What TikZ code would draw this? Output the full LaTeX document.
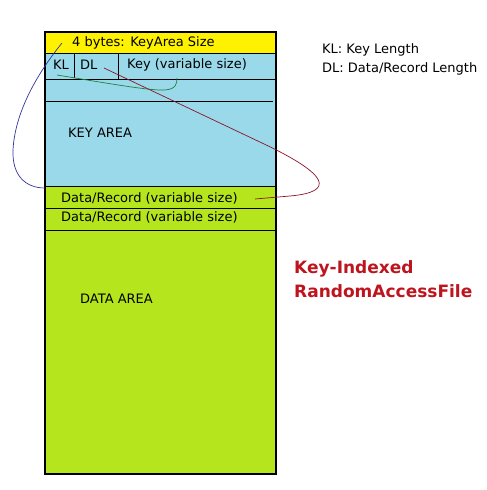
\documentclass[tikz,border=0pt]{standalone}
\usepackage{fontspec}
\setmainfont{DejaVu Sans}
\usepackage{tikz}

\definecolor{hdryellow}{RGB}{255,242,0}
\definecolor{keyblue}{RGB}{153,217,234}
\definecolor{datagreen}{RGB}{181,230,29}
\definecolor{titlered}{RGB}{190,20,30}
\definecolor{linkblue}{RGB}{50,50,160}
\definecolor{linkgreen}{RGB}{30,130,60}
\definecolor{linkred}{RGB}{140,20,40}

\tikzset{
  label/.style={anchor=west, inner sep=0pt, font=\fontsize{13}{15}\selectfont},
  link/.style={line width=0.7pt}
}

\begin{document}
\begin{tikzpicture}[x=1pt, y=-1pt]
      \useasboundingbox (0,0) rectangle (487,490);

      \fill[hdryellow] (45,32) rectangle (276,53);
      \fill[keyblue] (45,53) rectangle (276,186);
      \fill[datagreen] (45,186) rectangle (276,474);
      \draw[line width=1.2pt] (45,32) rectangle (276,474);

      \foreach \y in {53,79,186,208,230} {
        \draw (45,\y) -- (276,\y);
      }
      \draw (45,101) -- (273,101);
      \draw (74,53) -- (74,78);
      \draw (118,53) -- (118,79);

      \node[label] (hdr) at (72,43) {4 bytes: KeyArea Size};
      \node[label] (kl) at (53,65) {KL};
      \node[label] (dl) at (80,65) {DL};
      \node[label] (key) at (127,65) {Key (variable size)};
      \node[label] (keyarea) at (68,133) {KEY AREA};
      \node[label] (rec1) at (61,198) {Data/Record (variable size)};
      \node[label] (rec2) at (61,217) {Data/Record (variable size)};
      \node[label] (dataarea) at (80,299) {DATA AREA};

      \node[label] (kllegend) at (322,50) {KL: Key Length};
      \node[label] (dllegend) at (322,69) {DL: Data/Record Length};
      \node[anchor=west, inner sep=0pt, align=left, text=titlered,
        font=\bfseries\fontsize{17}{24}\selectfont] (title) at (294,279)
        {Key-Indexed\\RandomAccessFile};

      \coordinate (sizetick) at (62,43);
      \coordinate (recedge) at (45,188);
      \coordinate (klfoot) at (57,75);
      \coordinate (keyfoot) at (177,78);
      \coordinate (dlmark) at (104,68);
      \coordinate (recmark) at (255,199);

      \draw[link, linkblue] (sizetick) .. controls (40,70) and (15,110) .. (13,150)
        .. controls (12,175) and (25,188) .. (recedge);
      \draw[link, linkgreen] (klfoot) .. controls (100,82) and (150,91) .. (165,90)
        .. controls (176,89) and (177,84) .. (keyfoot);
      \draw[link, linkred] (dlmark) -- (262,143) .. controls (330,175) and (335,192) .. (290,196)
        -- (recmark);
\end{tikzpicture}
\end{document}
